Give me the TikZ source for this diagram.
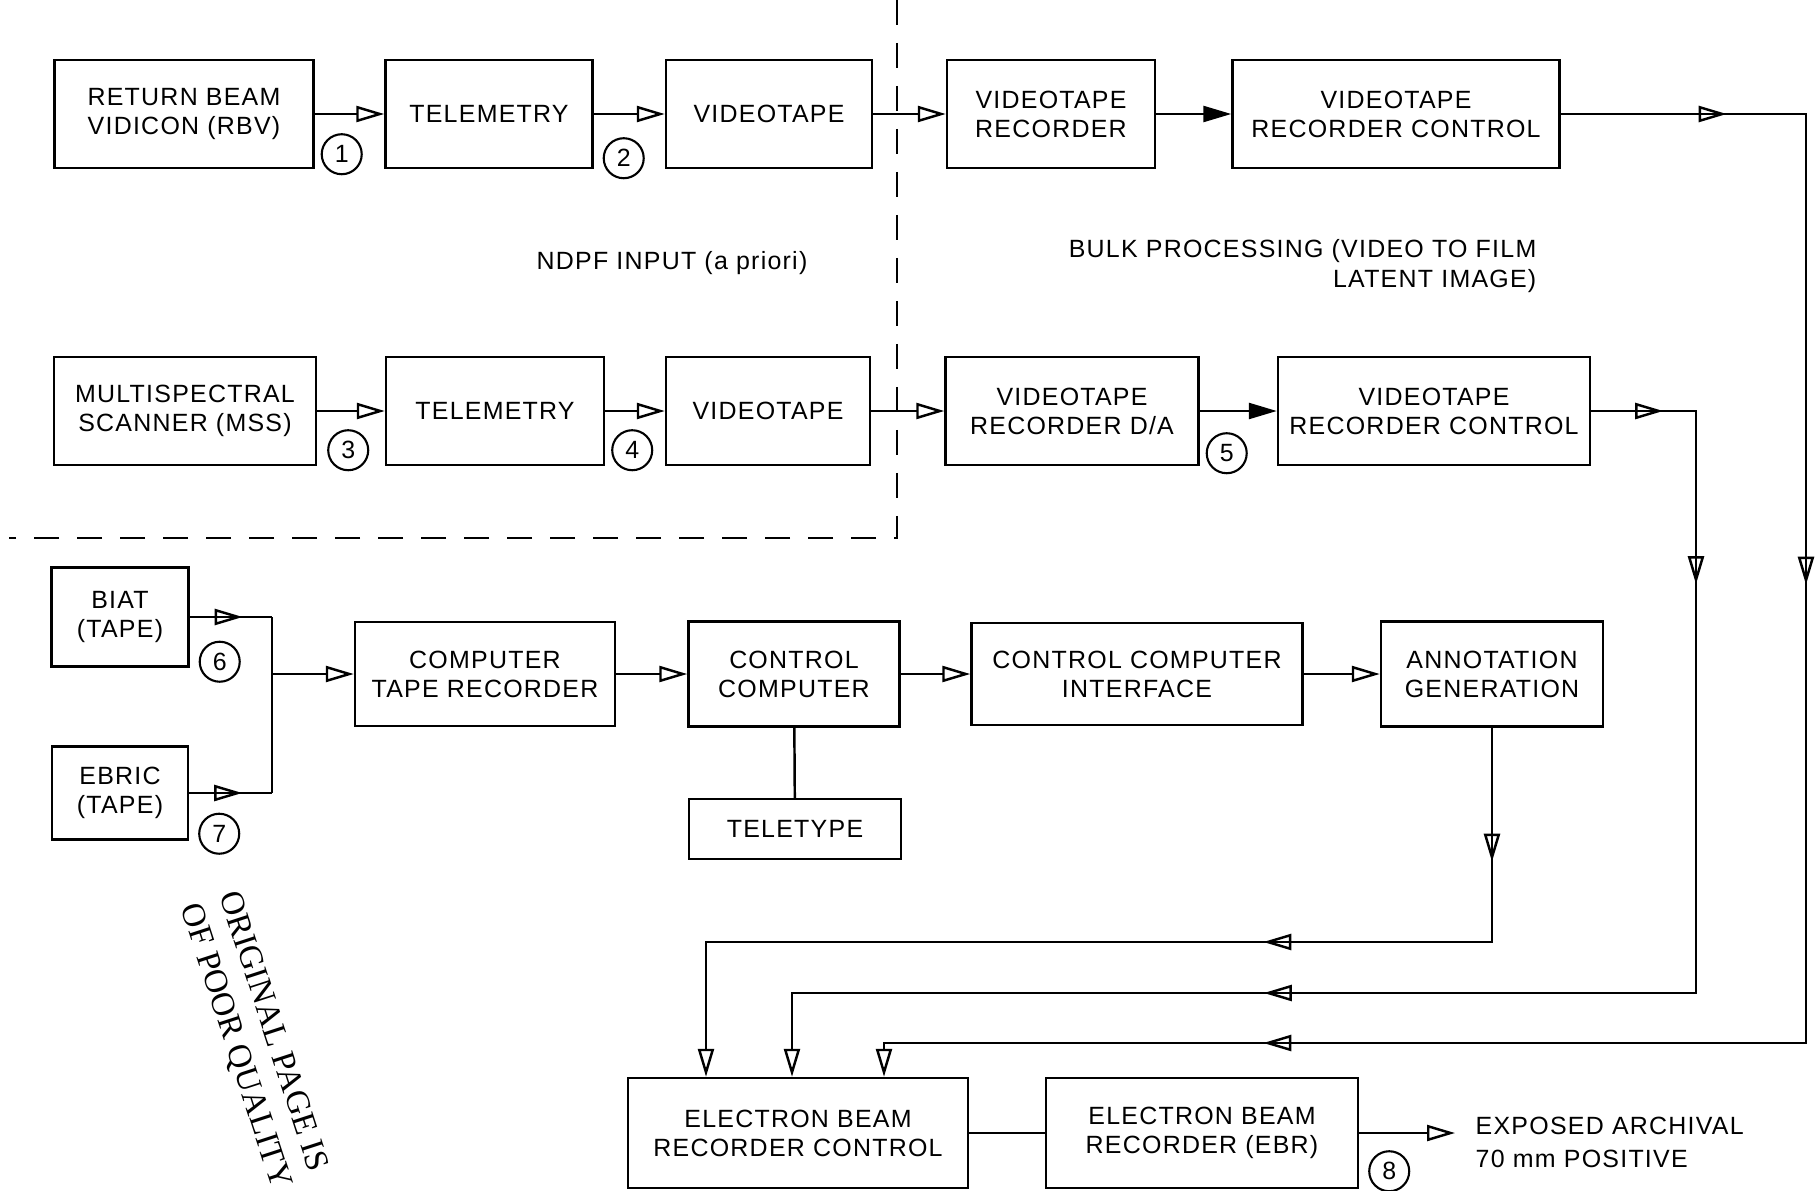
\documentclass[tikz,border=0pt]{standalone}
\usepackage{fontspec}
\setmainfont{Liberation Sans}[LetterSpace=5]
\newfontfamily\stampfont{Liberation Serif}
\usetikzlibrary{arrows.meta,decorations.markings}

\begin{document}
\begin{tikzpicture}
  [x=0.1mm,y=-0.1mm,
   >={Triangle[open,length=2.8mm,width=1.6mm]},
   box/.style={draw,line width=0.7pt,align=center,inner sep=1pt,
     font=\fontsize{7.1}{8.3}\selectfont},
   num/.style={draw,circle,line width=0.6pt,minimum size=4mm,inner sep=0pt,
     font=\fontsize{7.1}{8.3}\selectfont},
   note/.style={inner sep=0pt,font=\fontsize{7.1}{8.3}\selectfont},
   flow/.style={line width=0.7pt},
   fullarrow/.style={-{Triangle[length=2.8mm,width=1.6mm]}},
   midtip/.style={postaction={decorate,decoration={markings,
     mark=at position #1 with {\arrow{>}}}}},
   boundary/.style={line width=0.8pt,dash pattern=on 2.5mm off 1.8mm}]
\useasboundingbox (0,0) rectangle (1816,1191);
% top row: RBV
\path
    [minimum height=10.8mm]
    (184,114) node [box,minimum width=25.9mm] (rbv) {RETURN BEAM\\VIDICON (RBV)}
    (489,114) node [box,minimum width=20.7mm] (tel1) {TELEMETRY}
    (769,114) node [box,minimum width=20.6mm] (vid1) {VIDEOTAPE}
    (1051,114) node [box,minimum width=20.8mm] (vtr) {VIDEOTAPE\\RECORDER}
    (1396,114) node [box,minimum width=32.7mm] (vtrc1) {VIDEOTAPE\\RECORDER CONTROL};
% second row: MSS
\path
    [minimum height=10.8mm]
    (185,411) node [box,minimum width=26.2mm] (mss) {MULTISPECTRAL\\SCANNER (MSS)}
    (495,411) node [box,minimum width=21.8mm] (tel2) {TELEMETRY}
    (768,411) node [box,minimum width=20.4mm] (vid2) {VIDEOTAPE}
    (1072,411) node [box,minimum width=25.3mm] (vtrda) {VIDEOTAPE\\RECORDER D/A}
    (1434,411) node [box,minimum width=31.2mm] (vtrc2) {VIDEOTAPE\\RECORDER CONTROL};
% third row: tapes and computer
\path
    (120,617) node [box,minimum width=13.7mm,minimum height=9.9mm] (biat) {BIAT\\(TAPE)}
    (120,793) node [box,minimum width=13.6mm,minimum height=9.3mm] (ebric) {EBRIC\\(TAPE)}
    (485,674) node [box,minimum width=26mm,minimum height=10.4mm] (ctr) {COMPUTER\\TAPE RECORDER}
    (794,674) node [box,minimum width=21.1mm,minimum height=10.5mm] (cc) {CONTROL\\COMPUTER}
    (795,829) node [box,minimum width=21.2mm,minimum height=6mm] (tty) {TELETYPE}
    (1137,674) node [box,minimum width=33.1mm,minimum height=10.2mm] (cci) {CONTROL COMPUTER\\INTERFACE}
    (1492,674) node [box,minimum width=22.2mm,minimum height=10.5mm] (ag) {ANNOTATION\\GENERATION};
% recorder
\path
    [minimum height=11mm]
    (798,1133) node [box,minimum width=34mm] (ebrc) {ELECTRON BEAM\\RECORDER CONTROL}
    (1202,1133) node [box,minimum width=31.2mm] (ebr) {ELECTRON BEAM\\RECORDER (EBR)};
% numbered points
\path
    (rbv.south east) +(27,-15) node [num] (n1) {1}
    (tel1.south east) +(30,-11) node [num] (n2) {2}
    (mss.south east) +(31,-16) node [num] (n3) {3}
    (tel2.south east) +(27,-16) node [num] (n4) {4}
    (vtrda.south east) +(27,-13) node [num] (n5) {5}
    (biat.south east) +(30,-6) node [num] (n6) {6}
    (ebric.south east) +(30,-7) node [num] (n7) {7}
    (ebr.south east) +(30,-18) node [num] (n8) {8};
% texts
\path
    (672,263) node [note] (ndpf) {NDPF INPUT (a priori)}
    (1537,266) node [note,anchor=east,align=right] (bulk) {BULK PROCESSING (VIDEO TO FILM\\LATENT IMAGE)}
    (1455,1142) node [note,anchor=west,align=left,inner xsep=2mm] (film) {EXPOSED ARCHIVAL\\[0.4mm]70 mm POSITIVE};
\node [rotate=-72,align=left,inner sep=0pt,font=\stampfont\fontsize{9.5}{11.5}\selectfont]
    (stamp) at (254,1040) {ORIGINAL PAGE IS\\OF POOR QUALITY};
% NDPF boundary
\draw [boundary] (897,0) -- (897,538) -- (9,538);
% flow
\draw [flow,->] (rbv) -- (tel1);
\draw [flow,->] (tel1) -- (vid1);
\draw [flow,->] (vid1) -- (vtr);
\draw [flow,fullarrow] (vtr) -- (vtrc1);
\draw [flow,->] (mss) -- (tel2);
\draw [flow,->] (tel2) -- (vid2);
\draw [flow,->] (vid2) -- (vtrda);
\draw [flow,fullarrow] (vtrda) -- (vtrc2);
\coordinate (join) at (272,674);
\draw [flow,midtip=5.3mm] (biat.east) -- (biat.east -| join);
\draw [flow,midtip=5.3mm] (ebric.east) -- (ebric.east -| join);
\draw [flow] (biat.east -| join) -- (ebric.east -| join);
\draw [flow,->] (join) -- (ctr);
\draw [flow,->] (ctr) -- (cc);
\draw [flow,->] (cc) -- (cci);
\draw [flow,->] (cci) -- (ag);
\draw [flow] (cc) -- (tty);
% returns into recorder control
\path
    (ebrc.north) +(-92,0) coordinate (inA)
    (ebrc.north) +(-6,0) coordinate (inB)
    (ebrc.north) +(86,0) coordinate (inC);
\coordinate (ra) at (1492,942);
\coordinate (rb) at (1696,993);
\coordinate (rc) at (1806,1043);
\draw [flow,->,midtip=13.4mm,midtip=44.3mm] (ag.south) -- (ra) -| (inA);
\draw [flow,->,midtip=7.2mm,midtip=27.8mm,midtip=111.9mm] (vtrc2.east) -| (rb) -| (inB);
\draw [flow,->,midtip=16.6mm,midtip=71.6mm,midtip=171.7mm] (vtrc1.east) -| (rc) -| (inC);
\draw [flow] (ebrc) -- (ebr);
\draw [flow,->] (ebr.east) -- (ebr.east -| film.west);
\end{tikzpicture}
\end{document}
